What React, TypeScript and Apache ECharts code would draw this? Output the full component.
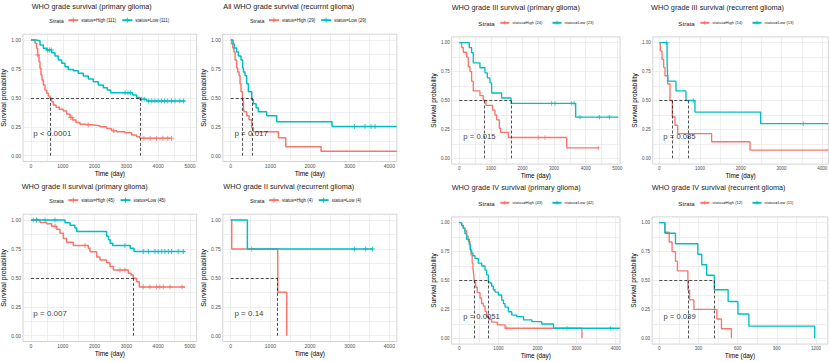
import React, { useEffect, useRef } from "react";
import * as echarts from "echarts";

const RED = "#F8766D";
const TEAL = "#00BFC4";
const FONT = "'Liberation Sans', Arial, Helvetica, sans-serif";
const PLUS = "path://M2,0H3V2H5V3H3V5H2V3H0V2H2Z";

// ---------- tick labels ----------
const yTicks = [0, 0.25, 0.5, 0.75, 1];
const xTicks5000 = [0, 1000, 2000, 3000, 4000, 5000];
const xTicks4000 = [0, 1000, 2000, 3000, 4000];
const xTicks1200 = [0, 300, 600, 900, 1200];

// ---------- titles / legend / p-values ----------
const titles = [
  "WHO grade survival (primary glioma)",
  "All WHO grade survival (recurrnt glioma)",
  "WHO grade III survival (primary glioma)",
  "WHO grade III survival (recurrent glioma)",
  "WHO grade II survival (primary glioma)",
  "WHO grade II survival (recurrent glioma)",
  "WHO grade IV survival (primary glioma)",
  "WHO grade IV survival (recurrent glioma)",
];
const nHigh = [111, 29, 24, 14, 45, 4, 43, 12];
const nLow = [111, 29, 23, 13, 45, 4, 42, 11];
const pTexts = ["p < 0.0001", "p = 0.017", "p = 0.015", "p = 0.085", "p = 0.007", "p = 0.14", "p = 0.0051", "p = 0.039"];
const pX = [73, 91, 127, 98, 73, 91, 102, 31];

// ---------- Panel 1: all grades, primary ----------
const p1HighTime = [0, 126, 178, 210, 252, 283, 314, 346, 388, 440, 493, 545, 597, 650, 702, 786, 891, 1017, 1121, 1226, 1310, 1415, 1541, 1698, 1960, 2169, 2379, 2536, 2693, 2955, 3165, 3322, 3427, 4423];
const p1HighSurv = [1, 0.971, 0.928, 0.87, 0.813, 0.755, 0.697, 0.654, 0.611, 0.568, 0.539, 0.516, 0.496, 0.467, 0.438, 0.418, 0.401, 0.386, 0.36, 0.331, 0.308, 0.288, 0.271, 0.265, 0.259, 0.251, 0.236, 0.216, 0.207, 0.199, 0.179, 0.164, 0.15, 0.15];
const p1LowTime = [0, 157, 283, 388, 493, 650, 755, 859, 964, 1069, 1174, 1331, 1488, 1645, 1803, 1960, 2117, 2274, 2400, 2505, 3196, 3322, 3427, 3637, 4842];
const p1LowSurv = [1, 0.994, 0.957, 0.928, 0.914, 0.89, 0.862, 0.827, 0.798, 0.769, 0.746, 0.735, 0.712, 0.689, 0.663, 0.64, 0.611, 0.588, 0.568, 0.545, 0.524, 0.504, 0.487, 0.473, 0.473];
const p1HighCensor = [210, 1250, 1290, 1800, 2600, 3550, 3750, 3950, 4150, 4300, 4420];
const p1LowCensor = [520, 580, 640, 2960, 3050, 3130, 3480, 3560, 3700, 3800, 3900, 4000, 4100, 4200, 4300, 4420, 4530, 4680, 4800];
const p1Medians = [597, 3427];

// ---------- Panel 2: all grades, recurrent ----------
const p2HighTime = [0, 25, 50, 80, 110, 150, 176, 210, 235, 260, 294, 320, 336, 403, 462, 530, 571, 1202, 1387, 2277, 4185];
const p2HighSurv = [1, 0.966, 0.931, 0.897, 0.828, 0.759, 0.724, 0.69, 0.621, 0.552, 0.483, 0.414, 0.379, 0.345, 0.31, 0.241, 0.207, 0.155, 0.078, 0.039, 0.039];
const p2LowTime = [0, 60, 92, 150, 193, 260, 300, 320, 360, 403, 445, 530, 571, 640, 697, 907, 1160, 2555, 4185];
const p2LowSurv = [1, 0.966, 0.931, 0.897, 0.862, 0.828, 0.759, 0.724, 0.69, 0.621, 0.552, 0.483, 0.448, 0.414, 0.379, 0.345, 0.294, 0.252, 0.252];
const p2HighCensor: number[] = [];
const p2LowCensor = [3118, 3386, 3537, 3640];
const p2Medians = [294, 530];

// ---------- Panel 3: grade III, primary ----------
const p3HighTime = [0, 74, 127, 232, 285, 338, 390, 443, 654, 760, 844, 1055, 1129, 1182, 1266, 1308, 1551, 3398, 4400];
const p3HighSurv = [1, 0.958, 0.917, 0.875, 0.792, 0.75, 0.667, 0.583, 0.542, 0.5, 0.458, 0.417, 0.375, 0.333, 0.26, 0.225, 0.18, 0.09, 0.09];
const p3LowTime = [0, 317, 390, 443, 654, 813, 886, 971, 1024, 1340, 1636, 3683, 5030];
const p3LowSurv = [1, 0.957, 0.913, 0.826, 0.783, 0.739, 0.696, 0.652, 0.565, 0.522, 0.475, 0.356, 0.356];
const p3HighCensor = [2500, 2712, 4400];
const p3LowCensor = [2923, 3029, 3557, 3630, 3820, 4433, 4750];
const p3Medians = [781, 1636];

// ---------- Panel 4: grade III, recurrent ----------
const p4HighTime = [0, 25, 65, 106, 139, 205, 262, 319, 384, 450, 1284, 2225, 4147];
const p4HighSurv = [1, 0.929, 0.857, 0.786, 0.714, 0.643, 0.5, 0.357, 0.286, 0.214, 0.143, 0.071, 0.071];
const p4LowTime = [0, 190, 200, 210, 409, 654, 875, 2487, 4147];
const p4LowSurv = [1, 0.846, 0.75, 0.667, 0.583, 0.5, 0.4, 0.3, 0.3];
const p4HighCensor: number[] = [];
const p4LowCensor = [180, 834, 3534];
const p4Medians = [319, 712];

// ---------- Panel 5: grade II, primary ----------
const p5HighTime = [0, 283, 493, 650, 807, 912, 1017, 1121, 1331, 1802, 1855, 2065, 2169, 2379, 2484, 2589, 3060, 3144, 3217, 3322, 3406, 4842];
const p5HighSurv = [1, 0.978, 0.967, 0.945, 0.92, 0.885, 0.84, 0.807, 0.78, 0.755, 0.726, 0.68, 0.654, 0.63, 0.597, 0.568, 0.54, 0.524, 0.496, 0.467, 0.42, 0.42];
const p5LowTime = [0, 1070, 1230, 1380, 1440, 2380, 2440, 2490, 2570, 3120, 3240, 4842];
const p5LowSurv = [1, 0.977, 0.955, 0.93, 0.9, 0.86, 0.83, 0.8, 0.78, 0.755, 0.727, 0.727];
const p5HighCensor = [180, 760, 1700, 2798, 2955, 3530, 3740, 3950, 4050, 4160, 4370, 4750];
const p5LowCensor = [73, 178, 440, 755, 2955, 3530, 3690, 3900, 4000, 4110, 4210, 4320, 4420, 4630, 4790];
const p5Medians = [3217];

// ---------- Panel 6: grade II, recurrent ----------
const p6HighTime = [0, 25, 1185, 1412];
const p6HighSurv = [1, 0.75, 0.375, 0];
const p6LowTime = [0, 420, 3596];
const p6LowSurv = [1, 0.75, 0.75];
const p6HighCensor = [529];
const p6LowCensor = [3118, 3403, 3571];
const p6Medians = [1185];

// ---------- Panel 7: grade IV, primary ----------
const p7HighTime = [0, 60, 103, 140, 188, 230, 274, 300, 330, 350, 368, 385, 420, 460, 530, 570, 615, 660, 701, 760, 829, 974, 1171, 3137];
const p7HighSurv = [1, 0.977, 0.953, 0.93, 0.884, 0.837, 0.767, 0.721, 0.651, 0.605, 0.558, 0.488, 0.442, 0.395, 0.349, 0.302, 0.279, 0.233, 0.186, 0.163, 0.14, 0.116, 0.087, 0];
const p7LowTime = [0, 60, 103, 145, 188, 256, 290, 316, 350, 402, 487, 573, 658, 700, 744, 790, 829, 870, 915, 1000, 1085, 1130, 1171, 1256, 1342, 1470, 1641, 1855, 2111, 2410, 4105];
const p7LowSurv = [1, 0.976, 0.952, 0.905, 0.857, 0.81, 0.762, 0.738, 0.714, 0.69, 0.65, 0.625, 0.59, 0.548, 0.488, 0.476, 0.45, 0.42, 0.4, 0.375, 0.33, 0.3, 0.27, 0.23, 0.2, 0.187, 0.16, 0.144, 0.124, 0.087, 0.087];
const p7HighCensor = [1214];
const p7LowCensor = [2752, 3863];
const p7Medians = [385, 744];

// ---------- Panel 8: grade IV, recurrent ----------
const p8HighTime = [0, 43, 76, 98, 124, 139, 219, 232, 265, 441, 476, 552];
const p8HighSurv = [1, 0.917, 0.833, 0.75, 0.667, 0.583, 0.417, 0.333, 0.25, 0.167, 0.083, 0];
const p8LowTime = [0, 43, 124, 295, 325, 363, 421, 527, 602, 686, 1190];
const p8LowSurv = [1, 0.909, 0.818, 0.727, 0.636, 0.545, 0.42, 0.318, 0.21, 0.105, 0];
const p8HighCensor: number[] = [];
const p8LowCensor: number[] = [];
const p8Medians = [219, 421];

const panelData = [
  { hT: p1HighTime, hS: p1HighSurv, lT: p1LowTime, lS: p1LowSurv, hC: p1HighCensor, lC: p1LowCensor, med: p1Medians, ticks: xTicks5000 },
  { hT: p2HighTime, hS: p2HighSurv, lT: p2LowTime, lS: p2LowSurv, hC: p2HighCensor, lC: p2LowCensor, med: p2Medians, ticks: xTicks4000 },
  { hT: p3HighTime, hS: p3HighSurv, lT: p3LowTime, lS: p3LowSurv, hC: p3HighCensor, lC: p3LowCensor, med: p3Medians, ticks: xTicks5000 },
  { hT: p4HighTime, hS: p4HighSurv, lT: p4LowTime, lS: p4LowSurv, hC: p4HighCensor, lC: p4LowCensor, med: p4Medians, ticks: xTicks4000 },
  { hT: p5HighTime, hS: p5HighSurv, lT: p5LowTime, lS: p5LowSurv, hC: p5HighCensor, lC: p5LowCensor, med: p5Medians, ticks: xTicks5000 },
  { hT: p6HighTime, hS: p6HighSurv, lT: p6LowTime, lS: p6LowSurv, hC: p6HighCensor, lC: p6LowCensor, med: p6Medians, ticks: xTicks4000 },
  { hT: p7HighTime, hS: p7HighSurv, lT: p7LowTime, lS: p7LowSurv, hC: p7HighCensor, lC: p7LowCensor, med: p7Medians, ticks: xTicks4000 },
  { hT: p8HighTime, hS: p8HighSurv, lT: p8LowTime, lS: p8LowSurv, hC: p8HighCensor, lC: p8LowCensor, med: p8Medians, ticks: xTicks1200 },
];

// ---------- layout (pixels) ----------
const layouts = [
  { left: 23.05, top: 34.2, width: 173.6, height: 127.3, xMin: -250, xMax: 5210, small: false },
  { left: 222.8, top: 34.2, width: 174.1, height: 127.3, xMin: -200, xMax: 4190, small: false },
  { left: 451.7, top: 36.9, width: 168.3, height: 127.2, xMin: -240, xMax: 5085, small: true },
  { left: 652.8, top: 36.9, width: 175.6, height: 127.2, xMin: -160, xMax: 4150, small: true },
  { left: 23.05, top: 214.2, width: 173.6, height: 127.3, xMin: -250, xMax: 5210, small: false },
  { left: 222.8, top: 214.2, width: 174.1, height: 127.3, xMin: -200, xMax: 4190, small: false },
  { left: 451.6, top: 216.9, width: 168.4, height: 127.2, xMin: -196, xMax: 4110, small: true },
  { left: 652.1, top: 216.9, width: 175.7, height: 127.2, xMin: -55, xMax: 1290, small: true },
];
const titlePos = [[31.7, 6], [223.3, 6], [451.7, 7.3], [651, 7.3], [21.7, 186], [223.3, 186], [451.7, 187.3], [651.7, 187.3]];
const strataPos = [[49.3, 20.7], [250, 20.7], [478.3, 23.3], [678.3, 23.3], [49.3, 200.7], [250, 200.7], [478.3, 203.3], [678.3, 203.3]];

function survAt(times: number[], surv: number[], t: number) {
  let v = surv[0];
  for (let i = 0; i < times.length; i++) if (times[i] <= t) v = surv[i];
  return v;
}

function withMinor(ticks: number[]) {
  const out: number[] = [];
  for (let i = 0; i < ticks.length; i++) {
    out.push(ticks[i]);
    if (i < ticks.length - 1) out.push((ticks[i] + ticks[i + 1]) / 2);
  }
  return out;
}

function buildOption() {
  const grid: any[] = [];
  const xAxis: any[] = [];
  const yAxis: any[] = [];
  const series: any[] = [];
  const legend: any[] = [];
  const elements: any[] = [];

  panelData.forEach((p, i) => {
    const L = layouts[i];
    const sm = L.small;
    const highName = `status=High (${nHigh[i]})`;
    const lowName = `status=Low (${nLow[i]})`;
    grid.push({
      left: L.left, top: L.top, width: L.width, height: L.height,
      show: true, borderColor: "#c9c9c9", borderWidth: 0.8, backgroundColor: "#ffffff",
      containLabel: false, outerBoundsMode: "none",
    });
    xAxis.push({
      type: "value", gridIndex: i, min: L.xMin, max: L.xMax,
      name: "Time (day)", nameLocation: "middle", nameGap: sm ? 8 : 8.5,
      nameTextStyle: { fontSize: 6.4, color: "#000", fontFamily: FONT },
      axisLine: { show: false },
      axisTick: { show: false, customValues: withMinor(p.ticks) },
      axisLabel: { customValues: p.ticks, formatter: (v: number) => String(v), fontSize: sm ? 4.5 : 5, color: "#4d4d4d", margin: 1.5, fontFamily: FONT },
      splitLine: { show: true, lineStyle: { color: "#e6e6e6", width: 0.7 } },
    });
    yAxis.push({
      type: "value", gridIndex: i, min: -0.05, max: 1.05,
      name: "Survival probability", nameLocation: "middle", nameGap: 14, nameRotate: 90,
      nameTextStyle: { fontSize: sm ? 6.5 : 6.9, color: "#000", fontFamily: FONT },
      axisLine: { show: false },
      axisTick: { show: false, customValues: withMinor(yTicks) },
      axisLabel: { customValues: yTicks, formatter: (v: number) => v.toFixed(2), fontSize: sm ? 4.5 : 5, color: "#4d4d4d", margin: 2, fontFamily: FONT },
      splitLine: { show: true, lineStyle: { color: "#e6e6e6", width: 0.7 } },
    });
    const lw = sm ? 1.35 : 1.5;
    series.push({
      type: "line", name: highName, xAxisIndex: i, yAxisIndex: i, step: "end",
      data: p.hT.map((t, k) => [t, p.hS[k]]), showSymbol: false, symbol: PLUS,
      lineStyle: { color: RED, width: lw }, itemStyle: { color: RED, borderWidth: 0 },
    });
    series.push({
      type: "line", name: lowName, xAxisIndex: i, yAxisIndex: i, step: "end",
      data: p.lT.map((t, k) => [t, p.lS[k]]), showSymbol: false, symbol: PLUS,
      lineStyle: { color: TEAL, width: lw }, itemStyle: { color: TEAL, borderWidth: 0 },
    });
    series.push({
      type: "scatter", name: highName, xAxisIndex: i, yAxisIndex: i,
      data: p.hC.map((t) => [t, survAt(p.hT, p.hS, t)]), symbol: PLUS, symbolSize: sm ? 4.5 : 5,
      itemStyle: { color: RED },
    });
    series.push({
      type: "scatter", name: lowName, xAxisIndex: i, yAxisIndex: i,
      data: p.lC.map((t) => [t, survAt(p.lT, p.lS, t)]), symbol: PLUS, symbolSize: sm ? 4.5 : 5,
      itemStyle: { color: TEAL },
    });
    const maxMed = Math.max(...p.med);
    series.push({
      type: "scatter", name: `pval${i}`, xAxisIndex: i, yAxisIndex: i,
      data: [[pX[i], 0.19]], symbolSize: 0.1, itemStyle: { color: "transparent" },
      label: { show: true, position: "right", distance: 0, formatter: pTexts[i], fontSize: sm ? 7.7 : 8, color: "#000", fontFamily: FONT },
      z: 5,
      markLine: {
        silent: true, symbol: ["none", "none"], label: { show: false },
        lineStyle: { color: "#222", type: [3, 2], width: 0.8 },
        data: [
          [{ coord: [0, 0.5] }, { coord: [maxMed, 0.5] }],
          ...p.med.map((m) => [{ coord: [m, 0.5] }, { coord: [m, 0] }]),
        ],
      },
    });
    legend.push({
      data: [highName, lowName], left: strataPos[i][0] + (sm ? 21 : 18), top: strataPos[i][1] - (sm ? 2.5 : 3),
      padding: 0, itemGap: sm ? 9 : 5, itemWidth: sm ? 9 : 10, itemHeight: sm ? 5 : 6,
      selectedMode: false,
      textStyle: { fontSize: sm ? 4.1 : 4.5, color: "#1a1a1a", fontFamily: FONT, padding: [0, 0, 0, -2] },
    });
    elements.push({
      type: "text", x: titlePos[i][0], y: titlePos[i][1],
      style: { text: titles[i], fontSize: 7.3, fill: "#1a1a1a", fontFamily: FONT, verticalAlign: "middle", align: "left" },
    });
    elements.push({
      type: "text", x: strataPos[i][0], y: strataPos[i][1],
      style: { text: "Strata", fontSize: sm ? 6.2 : 5.4, fill: "#1a1a1a", fontFamily: FONT, verticalAlign: "middle", align: "left" },
    });
  });

  return {
    animation: false,
    backgroundColor: "#ffffff",
    textStyle: { fontFamily: FONT },
    grid, xAxis, yAxis, series, legend,
    graphic: { elements },
  };
}

export default function App() {
  const ref = useRef<HTMLDivElement>(null);
  useEffect(() => {
    if (!ref.current) return;
    const chart = echarts.init(ref.current, null, { renderer: "svg", width: 829, height: 362 });
    chart.setOption(buildOption() as any);
    return () => chart.dispose();
  }, []);
  return (
    <div
      ref={ref}
      style={{ position: "absolute", left: 0, top: 0, width: 829, height: 362, background: "#fff" }}
    />
  );
}
